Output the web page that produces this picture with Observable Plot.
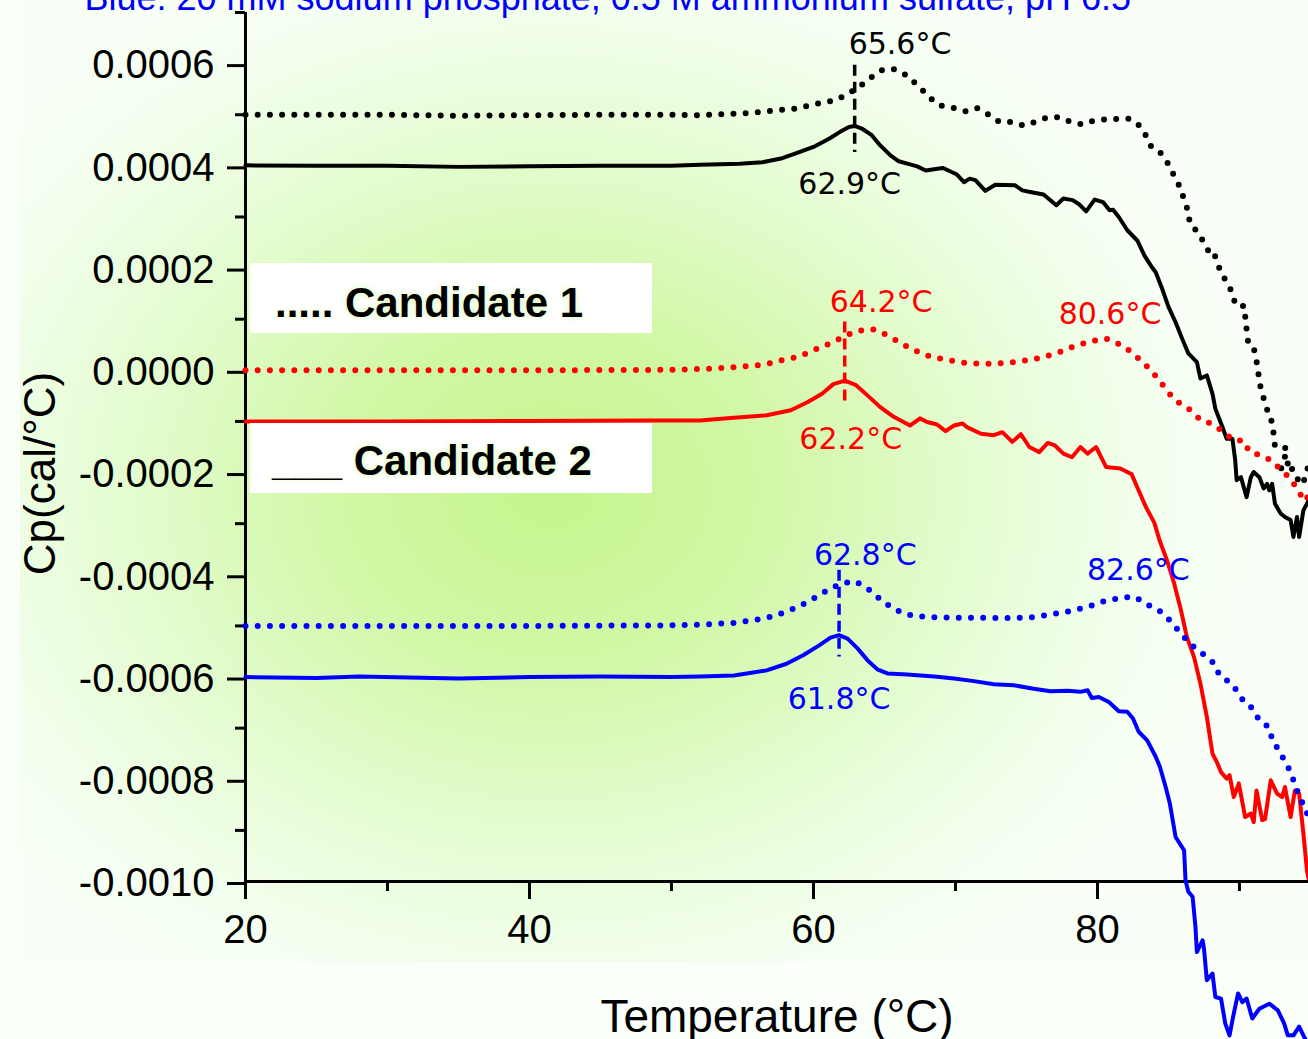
<!DOCTYPE html>
<html>
<head>
<meta charset="utf-8">
<script src="https://cdn.jsdelivr.net/npm/d3@7"></script>
<script src="https://cdn.jsdelivr.net/npm/@observablehq/plot@0.6"></script>
<style>
  html, body { margin: 0; padding: 0; background: #fbfffa; overflow: hidden; }
  #wrap { position: relative; width: 1308px; height: 1039px; }
  #bg {
    position: absolute; left: 20px; top: 0; width: 1288px; height: 962px;
    background: radial-gradient(ellipse 720px 580px at 530px 490px,
      #c4f58c 0%, #d1f8a6 30%, #e5fcd2 60%, #f4fff0 85%, #f9fff7 100%);
  }
  #chart { position: absolute; left: 0; top: 0; }
  .key { position: absolute; left: 250px; width: 402px; height: 70px; background: #fff; }
  .key span {
    position: absolute; white-space: pre; color: #000; line-height: 1;
    font: bold 42px "Liberation Sans", Arial, sans-serif;
    text-shadow: 0 0 6px #d4f9b0;
  }
</style>
</head>
<body>
<div id="wrap">
  <div id="bg"></div>
  <div id="chart"></div>
  <div class="key" style="top:263px"><span style="left:25px;top:16px">..... Candidate 1</span></div>
  <div class="key" style="top:423px"><span style="left:22px;top:14px">___ Candidate 2</span></div>
</div>
<script>
// DSC scans: [temperature °C, Cp in units of 1e-4 cal/°C]
// Candidate 1 (dotted) and Candidate 2 (solid) in three buffers (black, red, blue).
const cand1Black = [
  [20,5.00],[25,5.00],[30,5.00],[35,4.98],[40,4.99],[45,5.00],[50,5.00],[52.0,4.99],[55.3,5.03],
  [58.7,5.12],[60.5,5.23],[61.5,5.28],[62.25,5.38],[63.1,5.52],[64.0,5.72],[64.8,5.87],[65.6,5.90],
  [66.5,5.78],[67.4,5.56],[68.2,5.33],[68.9,5.18],[69.8,5.14],[70.7,5.07],[71.5,5.13],[72.4,4.99],
  [73.1,4.86],[73.9,4.86],[74.8,4.79],[75.6,4.86],[76.4,4.94],[77.3,4.95],[78.1,4.86],[78.9,4.81],
  [79.8,4.89],[80.6,4.91],[81.4,4.92],[82.2,4.92],[82.8,4.84],[83.4,4.60],[83.8,4.37],[84.5,4.24],
  [85.0,4.03],[85.4,3.80],[85.8,3.59],[86.1,3.34],[86.4,3.10],[86.5,2.87],[87.0,2.72],[87.5,2.50],
  [87.95,2.26],[88.2,2.29],[88.4,2.15],[88.7,1.90],[89.1,1.73],[89.5,1.51],[89.7,1.29],[90.25,1.27],
  [90.2,1.09],[90.45,1.04],[90.5,0.80],[90.6,0.57],[90.96,0.49],[91.15,0.26],[91.3,0.02],[91.4,-0.23],
  [91.6,-0.47],[91.9,-0.70],[92.06,-0.93],[92.3,-1.00],[92.4,-1.24],[92.5,-1.49],[93.0,-1.51],
  [93.45,-1.53],[93.1,-1.75],[92.9,-1.96],[93.6,-1.77],[93.75,-2.01],[94.05,-2.11],[94.4,-2.24],
  [94.65,-2.09],[94.86,-1.84]
];
const cand2Black = [
  [20,4.01],[25,4.00],[30,4.00],[35,3.98],[40,3.99],[45,4.00],[50,4.00],[52.0,4.02],[54.8,4.04],
  [56.4,4.07],[57.8,4.15],[58.7,4.24],[60.0,4.37],[61.1,4.53],[61.9,4.67],[62.5,4.76],[62.9,4.78],
  [63.4,4.73],[64.1,4.60],[64.7,4.40],[65.4,4.21],[66.0,4.09],[66.8,4.03],[67.3,3.99],[67.9,3.91],
  [69.1,3.96],[69.5,3.91],[70.1,3.83],[70.6,3.68],[71.0,3.75],[71.4,3.72],[72.1,3.51],[72.8,3.63],
  [74.2,3.62],[74.7,3.52],[75.25,3.49],[76.2,3.44],[77.1,3.23],[77.6,3.36],[78.25,3.33],[78.7,3.25],
  [79.2,3.11],[79.8,3.34],[80.4,3.29],[80.85,3.13],[81.1,3.14],[81.5,3.00],[82.1,2.74],[82.8,2.54],
  [83.3,2.25],[83.85,2.01],[84.1,1.92],[84.6,1.56],[85.0,1.24],[85.5,0.94],[85.96,0.62],[86.4,0.33],
  [87.0,0.16],[87.25,-0.16],[87.7,-0.10],[88.1,-0.46],[88.3,-0.75],[88.8,-1.11],[89.1,-1.34],
  [89.5,-1.34],[89.7,-1.76],[89.8,-2.15],[90.1,-2.09],[90.5,-2.48],[90.8,-2.09],[91.0,-1.99],
  [91.4,-2.09],[91.7,-2.31],[91.95,-2.22],[92.1,-2.35],[92.3,-2.22],[92.5,-2.61],[92.9,-2.80],
  [93.2,-2.87],[93.6,-2.93],[93.8,-3.26],[94.05,-2.87],[94.2,-3.26],[94.5,-2.74],[94.75,-2.61],
  [94.86,-2.54]
];
const cand1Red = [
  [20,0.00],[30,0.00],[40,0.00],[50,0.01],[52.6,0.03],[54.4,0.06],[56.15,0.10],[57.0,0.14],
  [57.8,0.20],[58.7,0.25],[59.6,0.34],[60.4,0.44],[61.3,0.54],[62.2,0.67],[63.0,0.76],[63.6,0.79],
  [64.2,0.80],[64.8,0.74],[65.6,0.62],[66.5,0.48],[67.3,0.37],[68.2,0.27],[69.1,0.22],[69.9,0.18],
  [70.8,0.14],[71.6,0.13],[72.5,0.13],[73.4,0.14],[74.2,0.16],[75.1,0.20],[75.9,0.24],[76.8,0.31],
  [77.7,0.39],[78.5,0.49],[79.4,0.55],[80.0,0.60],[80.6,0.62],[81.1,0.57],[82.0,0.44],[82.9,0.23],
  [83.7,0.02],[84.4,-0.21],[85.0,-0.44],[85.8,-0.65],[86.5,-0.77],[87.3,-0.98],[88.0,-1.04],
  [88.7,-1.17],[89.55,-1.36],[90.3,-1.38],[90.7,-1.60],[91.5,-1.66],[92.3,-1.77],[92.9,-1.94],
  [93.6,-2.12],[94.05,-2.32],[94.6,-2.56],[94.86,-2.45]
];
const cand2Red = [
  [20,-1.00],[30,-1.00],[40,-0.99],[48.5,-0.98],[52.0,-0.98],[54.4,-0.93],[56.7,-0.88],[58.4,-0.78],
  [59.6,-0.62],[60.6,-0.46],[61.4,-0.27],[62.2,-0.20],[63.0,-0.29],[63.8,-0.49],[64.7,-0.72],
  [65.65,-0.91],[66.8,-1.08],[67.5,-0.94],[68.0,-1.01],[68.7,-1.06],[69.3,-1.19],[69.9,-1.08],
  [70.5,-1.04],[70.8,-1.11],[71.8,-1.24],[72.7,-1.27],[73.3,-1.21],[74.0,-1.40],[74.6,-1.25],
  [75.2,-1.50],[75.9,-1.60],[76.5,-1.42],[77.0,-1.47],[77.6,-1.63],[78.2,-1.70],[78.8,-1.50],
  [79.3,-1.63],[79.9,-1.50],[80.6,-1.89],[81.6,-1.92],[82.4,-2.03],[82.9,-2.35],[83.4,-2.67],
  [84.0,-2.98],[84.4,-3.35],[84.9,-3.72],[85.4,-4.17],[85.85,-4.66],[86.3,-5.22],[86.8,-5.61],
  [87.25,-6.13],[87.7,-6.78],[88.1,-7.50],[88.4,-7.66],[88.7,-7.86],[89.1,-7.99],[89.3,-7.92],
  [89.6,-8.35],[89.95,-8.08],[90.4,-8.74],[90.8,-8.67],[91.0,-8.84],[91.2,-8.22],[91.6,-8.80],
  [91.8,-8.78],[92.2,-8.02],[92.65,-8.28],[93.0,-8.35],[93.2,-8.15],[93.6,-8.74],[93.9,-8.22],
  [94.2,-8.28],[94.5,-9.06],[94.75,-9.78],[94.86,-9.94]
];
const cand1Blue = [
  [20,-5.00],[30,-5.00],[40,-5.00],[50,-4.99],[52.6,-4.97],[54.4,-4.94],[56.15,-4.87],[57.0,-4.82],
  [57.9,-4.74],[58.7,-4.65],[59.6,-4.53],[60.4,-4.40],[61.3,-4.25],[62.2,-4.16],[62.8,-4.12],
  [63.2,-4.17],[63.9,-4.29],[64.8,-4.50],[65.6,-4.66],[66.5,-4.77],[67.35,-4.81],[68.2,-4.83],
  [69.1,-4.83],[69.9,-4.84],[70.8,-4.84],[71.6,-4.84],[72.5,-4.84],[73.4,-4.85],[74.2,-4.84],
  [75.1,-4.84],[75.9,-4.81],[76.8,-4.77],[77.7,-4.73],[78.5,-4.68],[79.4,-4.62],[80.3,-4.53],
  [81.15,-4.48],[82.0,-4.44],[82.6,-4.43],[82.85,-4.47],[83.7,-4.61],[84.5,-4.73],[85.2,-4.92],
  [85.85,-5.14],[86.55,-5.36],[87.3,-5.52],[88.2,-5.73],[88.6,-5.97],[89.2,-6.08],[89.8,-6.26],
  [90.35,-6.50],[90.9,-6.61],[91.4,-6.85],[92.1,-6.99],[92.3,-7.22],[92.8,-7.45],[93.2,-7.65],
  [93.66,-7.89],[93.9,-8.12],[94.3,-8.37],[94.65,-8.61],[94.86,-8.72]
];
const cand2Blue = [
  [20,-6.00],[25,-6.02],[28,-5.99],[35,-6.03],[40,-6.00],[45,-5.99],[50,-6.00],[52.0,-5.99],
  [54.4,-5.97],[56.7,-5.87],[58.1,-5.74],[59.3,-5.57],[60.4,-5.38],[61.2,-5.23],[61.8,-5.18],
  [62.4,-5.25],[63.1,-5.44],[63.8,-5.67],[64.5,-5.85],[65.2,-5.93],[66.6,-5.95],[68.5,-5.99],
  [69.9,-6.03],[71.3,-6.08],[72.7,-6.14],[74.1,-6.16],[75.5,-6.23],[76.7,-6.28],[77.9,-6.27],
  [78.8,-6.29],[79.3,-6.26],[79.6,-6.41],[80.1,-6.39],[80.8,-6.49],[81.5,-6.67],[82.1,-6.68],
  [82.5,-6.81],[82.9,-7.07],[83.5,-7.24],[84.1,-7.56],[84.4,-7.76],[84.8,-8.15],[85.1,-8.48],
  [85.5,-9.13],[86.1,-9.39],[86.2,-9.98],[86.4,-10.20],[86.7,-10.30],[86.9,-10.89],[87.0,-11.38],
  [87.4,-11.15],[87.5,-11.31],[87.7,-11.93],[88.1,-11.80],[88.3,-12.26],[88.7,-12.29],[89.0,-12.78],
  [89.3,-13.01],[89.55,-12.65],[89.9,-12.19],[90.2,-12.36],[90.5,-12.29],[90.9,-12.68],[91.4,-12.49],
  [92.1,-12.39],[92.7,-12.52],[93.15,-12.78],[93.4,-13.01],[93.8,-13.01],[94.2,-12.84],[94.5,-13.01],
  [94.86,-13.20]
];

// Peak temperatures (°C) annotated on the scans
const peakTemps = [65.6, 62.9, 64.2, 80.6, 62.2, 62.8, 82.6, 61.8];
const peakScans = [cand1Black, cand2Black, cand1Red, cand1Red, cand2Red, cand1Blue, cand1Blue, cand2Blue];

// Axes
const xDomain = [20, 94.86];
const yDomain = [-0.0010, 0.0007];
const xTicks = [20, 40, 60, 80];
const xMinorTicks = [30, 50, 70, 90];
const yTicks = [-0.0010, -0.0008, -0.0006, -0.0004, -0.0002, 0, 0.0002, 0.0004, 0.0006];
const yTickLabels = ["-0.0010", "-0.0008", "-0.0006", "-0.0004", "-0.0002", "0.0000", "0.0002", "0.0004", "0.0006"];
const yMinorTicks = [-0.0009, -0.0007, -0.0005, -0.0003, -0.0001, 0.0001, 0.0003, 0.0005, 0.0007];

const title = "Blue: 20 mM sodium phosphate, 0.5 M ammonium sulfate, pH 6.5";
const xTitle = "Temperature (°C)";
const yTitle = "Cp(cal/°C)";

const UNIT = 1e-4;
const rows = (pairs) => pairs.map(([t, c]) => ({t, cp: c * UNIT}));
function cpAt(pairs, t) {
  for (let i = 1; i < pairs.length; i++) {
    const [t0, c0] = pairs[i - 1], [t1, c1] = pairs[i];
    if (t0 <= t && t <= t1) return (c0 + (c1 - c0) * (t - t0) / (t1 - t0)) * UNIT;
  }
  return null;
}

const BLACK = "#000000", RED = "#ff0000", BLUE = "#0000ff";
const scanColors = new Map([[cand1Black, BLACK], [cand2Black, BLACK], [cand1Red, RED], [cand2Red, RED], [cand1Blue, BLUE], [cand2Blue, BLUE]]);

const dotted = (pairs) => Plot.line(rows(pairs), {
  x: "t", y: "cp", stroke: scanColors.get(pairs), strokeWidth: 6,
  strokeDasharray: "0 12.2", strokeLinecap: "round", strokeLinejoin: "round"
});
const solid = (pairs) => Plot.line(rows(pairs), {
  x: "t", y: "cp", stroke: scanColors.get(pairs), strokeWidth: 4, strokeLinejoin: "round"
});

// Dashed markers through the Candidate 2 peak, spanning up to the Candidate 1 trace
const peakMarker = (dottedScan, solidScan, t, extendTop, extendBottom) => Plot.ruleX(
  [{t, top: cpAt(dottedScan, t), bottom: cpAt(solidScan, t)}],
  {x: "t", y1: "top", y2: "bottom", stroke: scanColors.get(solidScan), strokeWidth: 3.5,
   strokeDasharray: "11 6", insetTop: -extendTop, insetBottom: -extendBottom}
);

// Label placement offsets (px) relative to each annotated peak
const labelOffsets = [[7, -15], [-5, 68], [8, -17], [4, -15], [6, 68], [12, -16], [4, -17], [0, 74]];
const peakLabels = peakTemps.map((t, i) => Plot.text([{t, cp: cpAt(peakScans[i], t)}], {
  x: "t", y: "cp", text: (d) => `${d.t.toFixed(1)}°C`,
  fill: scanColors.get(peakScans[i]), fontSize: 30, fontFamily: "DejaVu Sans",
  textAnchor: "middle", lineAnchor: "bottom",
  dx: labelOffsets[i][0], dy: labelOffsets[i][1]
}));

const chart = Plot.plot({
  width: 1308,
  height: 1039,
  marginLeft: 245,
  marginRight: 0,
  marginTop: 12,
  marginBottom: 158,
  x: {domain: xDomain, label: null},
  y: {domain: yDomain, label: null},
  style: {fontFamily: "'Liberation Sans', Arial, sans-serif", background: "transparent", color: "#000", overflow: "visible"},
  marks: [
    // axis lines
    Plot.ruleX([xDomain[0]], {stroke: BLACK, strokeWidth: 3}),
    Plot.ruleY([yDomain[0]], {stroke: BLACK, strokeWidth: 3}),
    Plot.axisX(xTicks, {tickSize: 18, tickPadding: 15, fontSize: 40, strokeWidth: 3, label: null, tickFormat: (d) => String(d)}),
    Plot.axisX(xMinorTicks, {tickSize: 10, strokeWidth: 3, label: null, tickFormat: () => ""}),
    Plot.axisY(yTicks, {tickSize: 18, tickPadding: 13, fontSize: 40, strokeWidth: 3, label: null, dy: 2,
      tickFormat: (d) => yTickLabels[yTicks.indexOf(d)]}),
    Plot.axisY(yMinorTicks, {tickSize: 10, strokeWidth: 3, label: null, tickFormat: () => ""}),

    // scans
    dotted(cand1Black), solid(cand2Black),
    dotted(cand1Red), solid(cand2Red),
    dotted(cand1Blue), solid(cand2Blue),

    peakMarker(cand1Black, cand2Black, 62.9, 24.5, 26.4),
    peakMarker(cand1Red, cand2Red, 62.2, 14, 26.5),
    peakMarker(cand1Blue, cand2Blue, 61.8, 14.7, 22),
    ...peakLabels,

    // titles
    Plot.text([xTitle], {text: (d) => d, frameAnchor: "bottom", textAnchor: "middle", lineAnchor: "bottom", dy: 150, fontSize: 46}),
    Plot.text([yTitle], {text: (d) => d, frameAnchor: "left", textAnchor: "middle", rotate: -90, lineAnchor: "bottom",
      dx: -191, dy: 26.5, fontSize: 44}),
    Plot.text([title], {text: (d) => d, frameAnchor: "top-left", textAnchor: "start", lineAnchor: "bottom",
      dx: -161, dy: -3, fontSize: 36, fill: BLUE})
  ]
});
document.getElementById("chart").append(chart);
</script>
</body>
</html>
